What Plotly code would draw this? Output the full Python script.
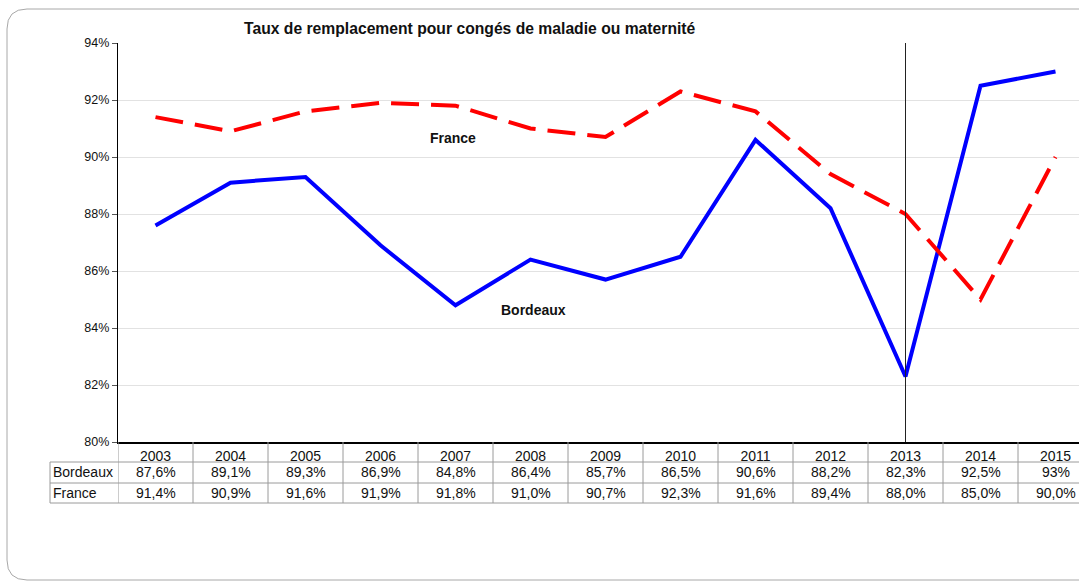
import plotly.graph_objects as go

years = ["2003", "2004", "2005", "2006", "2007", "2008", "2009",
         "2010", "2011", "2012", "2013", "2014", "2015"]
bordeaux = [87.6, 89.1, 89.3, 86.9, 84.8, 86.4, 85.7, 86.5, 90.6, 88.2, 82.3, 92.5, 93.0]
france = [91.4, 90.9, 91.6, 91.9, 91.8, 91.0, 90.7, 92.3, 91.6, 89.4, 88.0, 85.0, 90.0]
bordeaux_labels = ["87,6%", "89,1%", "89,3%", "86,9%", "84,8%", "86,4%", "85,7%",
                   "86,5%", "90,6%", "88,2%", "82,3%", "92,5%", "93%"]
france_labels = ["91,4%", "90,9%", "91,6%", "91,9%", "91,8%", "91,0%", "90,7%",
                 "92,3%", "91,6%", "89,4%", "88,0%", "85,0%", "90,0%"]
y_ticks = [80, 82, 84, 86, 88, 90, 92, 94]
marker_year = "2013"

W, H = 1079, 581
FONT = "Liberation Sans, Arial, Helvetica, sans-serif"


def px(x):
    return x / W


def py(y):
    return 1 - y / H


fig = go.Figure()

fig.add_trace(go.Scatter(
    x=years, y=bordeaux, mode="lines", name="Bordeaux",
    line=dict(color="#0000ff", width=4),
))
fig.add_trace(go.Scatter(
    x=years, y=france, mode="lines", name="France",
    line=dict(color="#ff0000", width=4, dash="28px,12px"),
))

shapes = []
# vertical marker line (category axis -> use the index)
mi = years.index(marker_year)
shapes.append(dict(type="line", xref="x", yref="paper", x0=mi, x1=mi,
                   y0=py(442), y1=py(43), line=dict(color="#222222", width=1)))

# table grid
grid = dict(color="#9a9a9a", width=1)
for i in range(-1, len(years)):
    shapes.append(dict(type="line", xref="x", yref="paper", x0=i + 0.5, x1=i + 0.5,
                       y0=py(503), y1=py(442), line=grid))
for yy in (462, 483, 503):
    shapes.append(dict(type="line", xref="paper", yref="paper", x0=px(50), x1=1,
                       y0=py(yy), y1=py(yy), line=grid))
shapes.append(dict(type="line", xref="paper", yref="paper", x0=px(50), x1=px(50),
                   y0=py(503), y1=py(462), line=grid))

# outer rounded frame
frame = (f"M {px(1090)},{py(9)} L {px(27)},{py(9)} Q {px(7)},{py(9)} {px(7)},{py(29)} "
         f"L {px(7)},{py(560)} Q {px(7)},{py(580)} {px(27)},{py(580)} L {px(1090)},{py(580)}")
shapes.append(dict(type="path", xref="paper", yref="paper", path=frame,
                   line=dict(color="#a8a8a8", width=1)))

annotations = []
cell_font = dict(family=FONT, size=14, color="#111111")
for i, (b, f) in enumerate(zip(bordeaux_labels, france_labels)):
    annotations.append(dict(xref="x", yref="paper", x=i, y=py(472), text=b,
                            showarrow=False, font=cell_font, xanchor="center", yanchor="middle"))
    annotations.append(dict(xref="x", yref="paper", x=i, y=py(492.5), text=f,
                            showarrow=False, font=cell_font, xanchor="center", yanchor="middle"))
annotations.append(dict(xref="paper", yref="paper", x=px(51), y=py(472), text="Bordeaux",
                        showarrow=False, font=cell_font, xanchor="left", yanchor="middle"))
annotations.append(dict(xref="paper", yref="paper", x=px(51), y=py(492.5), text="France",
                        showarrow=False, font=cell_font, xanchor="left", yanchor="middle"))

# series labels in plot
bold = dict(family=FONT, size=14, color="#111111")
annotations.append(dict(xref="paper", yref="paper", x=px(453), y=py(138), text="<b>France</b>",
                        showarrow=False, font=bold, xanchor="center", yanchor="middle"))
annotations.append(dict(xref="paper", yref="paper", x=px(533), y=py(310), text="<b>Bordeaux</b>",
                        showarrow=False, font=bold, xanchor="center", yanchor="middle"))
# title
annotations.append(dict(xref="paper", yref="paper", x=px(470), y=py(28),
                        text="<b>Taux de remplacement pour congés de maladie ou maternité</b>",
                        showarrow=False, xanchor="center", yanchor="middle",
                        font=dict(family=FONT, size=15.7, color="#111111")))

fig.update_layout(
    template="none",
    width=W, height=H,
    margin=dict(l=0, r=0, t=0, b=0, pad=0),
    paper_bgcolor="white", plot_bgcolor="white",
    showlegend=False,
    shapes=shapes,
    annotations=annotations,
    xaxis=dict(
        domain=[px(118), 1],
        type="category",
        automargin=False,
        range=[-0.5, (W - 118) / 75 - 0.5],
        showgrid=False, zeroline=False,
        showline=True, linecolor="black", linewidth=1.5,
        ticks="", tickfont=dict(family=FONT, size=14, color="#111111"),
    ),
    yaxis=dict(
        domain=[py(442), py(43)],
        range=[80, 94],
        automargin=False,
        tickvals=y_ticks,
        ticktext=[f"{v}%" for v in y_ticks],
        showgrid=True, gridcolor="#e2e2e2", gridwidth=1,
        zeroline=False,
        showline=True, linecolor="black", linewidth=1.2,
        ticks="outside", ticklen=5, tickcolor="#555555",
        tickfont=dict(family=FONT, size=12.5, color="#111111"),
    ),
)

fig.write_html("out.html", config={"displayModeBar": False},
               post_script="document.body.style.margin='0';document.body.style.overflow='hidden';")
